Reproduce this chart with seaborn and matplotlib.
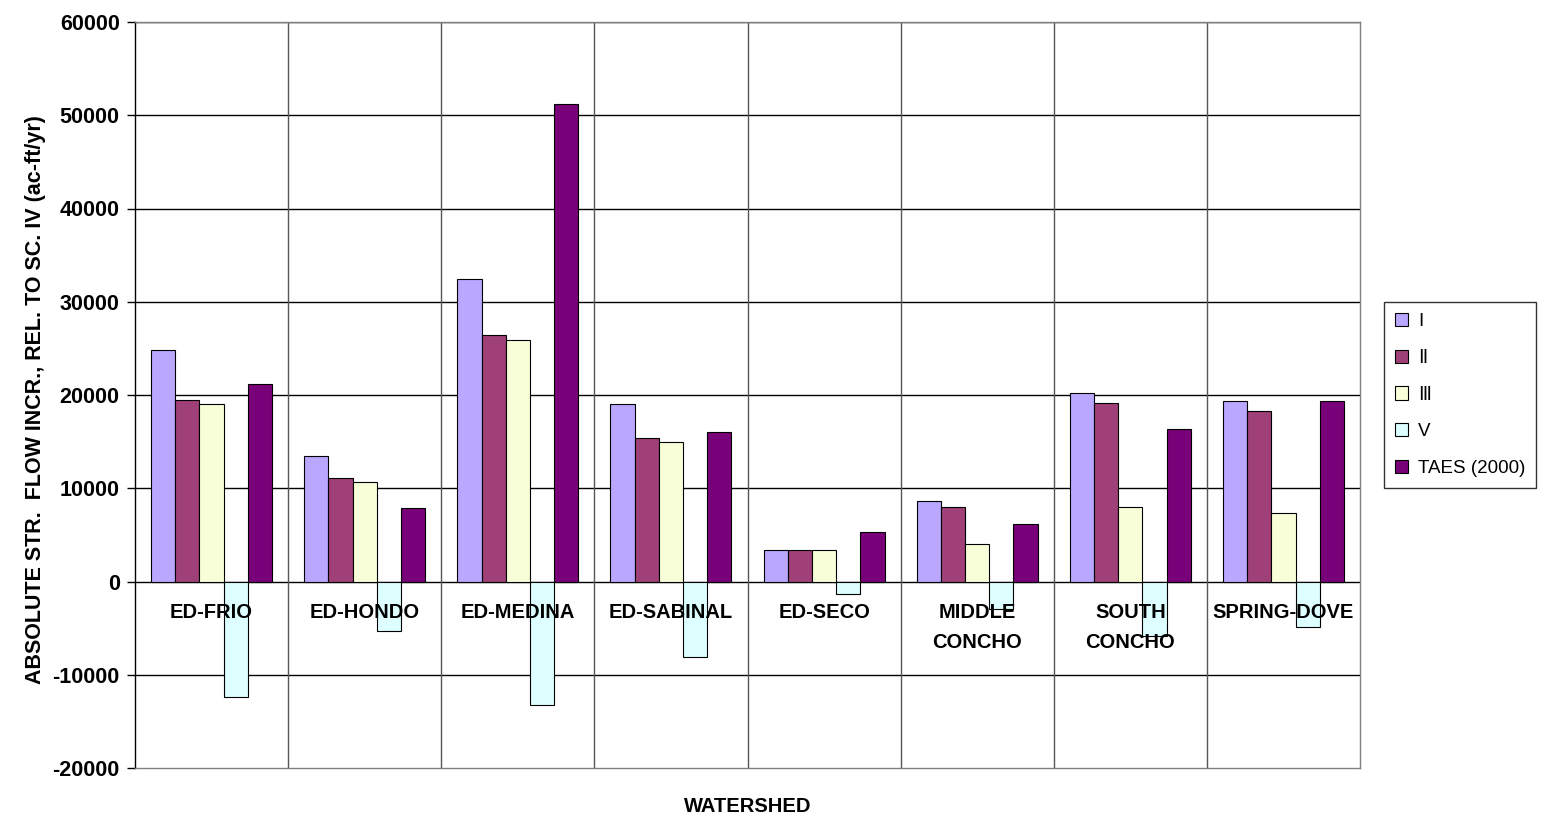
import pandas as pd
import numpy as np
import seaborn as sns
import matplotlib.pyplot as plt

watersheds = ["ED-FRIO", "ED-HONDO", "ED-MEDINA", "ED-SABINAL", "ED-SECO",
              "MIDDLE\nCONCHO", "SOUTH\nCONCHO", "SPRING-DOVE"]
scenarios = ["I", "Ⅱ", "Ⅲ", "V", "TAES (2000)"]

sc_1 = [24800, 13450, 32400, 19000, 3400, 8600, 20200, 19400]
sc_2 = [19500, 11100, 26450, 15350, 3400, 7950, 19150, 18300]
sc_3 = [19000, 10700, 25850, 14950, 3400, 4050, 7950, 7300]
sc_5 = [-12350, -5350, -13250, -8150, -1300, -3000, -5800, -4900]
taes = [21200, 7900, 51250, 16050, 5350, 6200, 16350, 19400]

colors = ["#BAA7FF", "#A04078", "#F8FFD8", "#DDFFFF", "#780078"]

df = pd.DataFrame({"Watershed": watersheds * 5,
                   "Scenario": np.repeat(scenarios, len(watersheds)),
                   "Flow": sc_1 + sc_2 + sc_3 + sc_5 + taes})

sns.set_style("white")
plt.rcParams['font.family'] = ['Liberation Sans', 'DejaVu Sans']
plt.rcParams['text.color'] = 'black'
plt.rcParams['axes.labelcolor'] = 'black'
plt.rcParams['ytick.color'] = 'black'

fig = plt.figure(figsize=(15.45, 8.18), dpi=100)
ax = fig.add_axes([135/1545, 1-768/818, (1360-135)/1545, (768-22)/818])

sns.barplot(data=df, x="Watershed", y="Flow", hue="Scenario", order=watersheds,
            hue_order=scenarios, palette=colors, width=0.79, gap=0,
            edgecolor="black", linewidth=0.8, saturation=1, ax=ax, zorder=3)

ax.set_ylim(-20000, 60000)
ax.set_xlim(-0.5, len(watersheds) - 0.5)
ax.set_yticks(range(-20000, 60001, 10000))
ax.set_yticklabels([str(v) for v in range(-20000, 60001, 10000)],
                   fontsize=15.5, fontweight="bold")
ax.tick_params(axis="y", length=6, width=1, color="black", direction="out", pad=5, left=True)
ax.set_xticks([])

for v in range(-10000, 60001, 10000):
    ax.axhline(v, color="black", lw=1, zorder=1)
for i in range(1, len(watersheds)):
    ax.axvline(i - 0.5, color="#555555", lw=1, zorder=1)

for i, w in enumerate(watersheds):
    ax.text(i, -2300, w, ha="center", va="top", fontsize=14.5, fontweight="bold",
            linespacing=1.75, zorder=4)

for s in ["top", "right", "bottom"]:
    ax.spines[s].set_color("#808080")
ax.spines["left"].set_color("black")
for s in ax.spines.values():
    s.set_linewidth(1)

ax.set_xlabel("")
fig.text((135 + 1360) / 2 / 1545, 1 - 806/818, "WATERSHED", ha="center", va="center",
         fontsize=14.5, fontweight="bold")
ax.set_ylabel("ABSOLUTE STR.  FLOW INCR., REL. TO SC. IV (ac-ft/yr)",
              fontsize=15.5, fontweight="bold")
ax.yaxis.set_label_coords((46 - 135) / 1225, (768 - 400) / 746)

handles, labels = ax.get_legend_handles_labels()
leg = ax.legend(handles, labels, loc="center left", bbox_to_anchor=(1.012, 0.5),
                frameon=True, fancybox=False, edgecolor="black", fontsize=13.5,
                handlelength=0.7, handleheight=0.7, handletextpad=0.5,
                labelspacing=1.05, borderpad=0.6)
leg.get_frame().set_linewidth(1)

fig.savefig("out.png", dpi=100)
